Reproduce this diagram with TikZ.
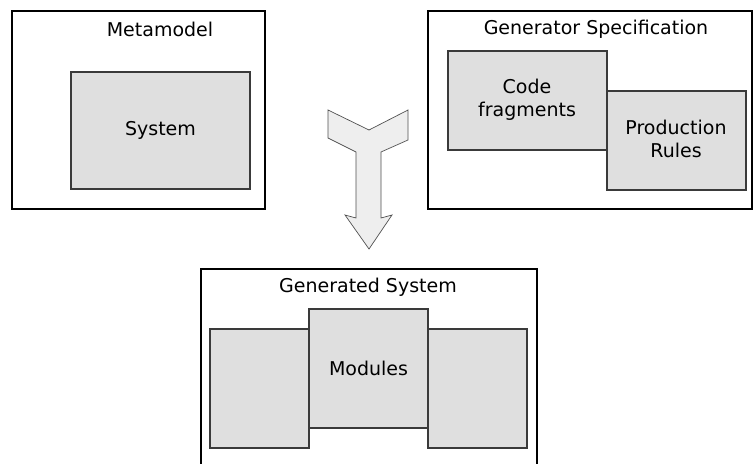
\documentclass[tikz,border=0pt]{standalone}
\usepackage{fontspec}
\setmainfont{DejaVu Sans}
\definecolor{boxfill}{HTML}{DFDFDF}
\definecolor{boxline}{HTML}{3A3A3A}
\definecolor{arrowfill}{HTML}{EEEEEE}
\definecolor{arrowline}{HTML}{505050}
\tikzset{
  outerbox/.style={draw=black, line width=1.6pt, fill=white, inner sep=0pt},
  innerbox/.style={draw=boxline, line width=1.1pt, fill=boxfill, inner sep=0pt},
  label/.style={font=\fontsize{19}{23}\selectfont, inner sep=0pt, align=center},
}
\begin{document}
\begin{tikzpicture}[x=1pt,y=-1pt]
\useasboundingbox (0,0) rectangle (754,463);
\clip (0,0) rectangle (754,463);

% Metamodel
\node[outerbox, minimum width=253pt, minimum height=198pt] (meta) at (138.5,110) {};
\node[label] (metat) at (160,29) {Metamodel};
\node[innerbox, minimum width=179pt, minimum height=117pt] (sys) at (160.5,130.5) {};
\node[label] at (sys.center) {System};

% Generator specification
\node[outerbox, minimum width=324pt, minimum height=198pt] (gen) at (590,110) {};
\node[label] (gent) at (596,29) {Generator Specification};
\node[innerbox, minimum width=159pt, minimum height=99pt] (code) at (527.5,100.5) {};
\node[label] (codet) at (527,100) {Code\\fragments};
\node[innerbox, minimum width=139pt, minimum height=99pt] (prod) at (676.5,140.5) {};
\node[label] (prodt) at (676,139) {Production\\Rules};

% Generated system
\node[outerbox, minimum width=336pt, minimum height=210pt] (out) at (369,374) {};
\node[label] (outt) at (368,287) {Generated System};
\node[innerbox, minimum width=99pt, minimum height=119pt] (modl) at (259.5,388.5) {};
\node[innerbox, minimum width=99pt, minimum height=119pt] (modr) at (477.5,388.5) {};
\node[innerbox, minimum width=119pt, minimum height=119pt] (modc) at (368.5,368.5) {};
\node[label] at (modc.center) {Modules};

% Merging block arrow
\draw[draw=arrowline, line width=0.7pt, fill=arrowfill, line join=miter]
  (328,110) -- (369,130) -- (408,110) -- (408,140) -- (381,152) -- (381,218)
  -- (392,215) -- (369,249) -- (345,215) -- (356,218) -- (356,152)
  -- (328,138) -- cycle;
\end{tikzpicture}
\end{document}
